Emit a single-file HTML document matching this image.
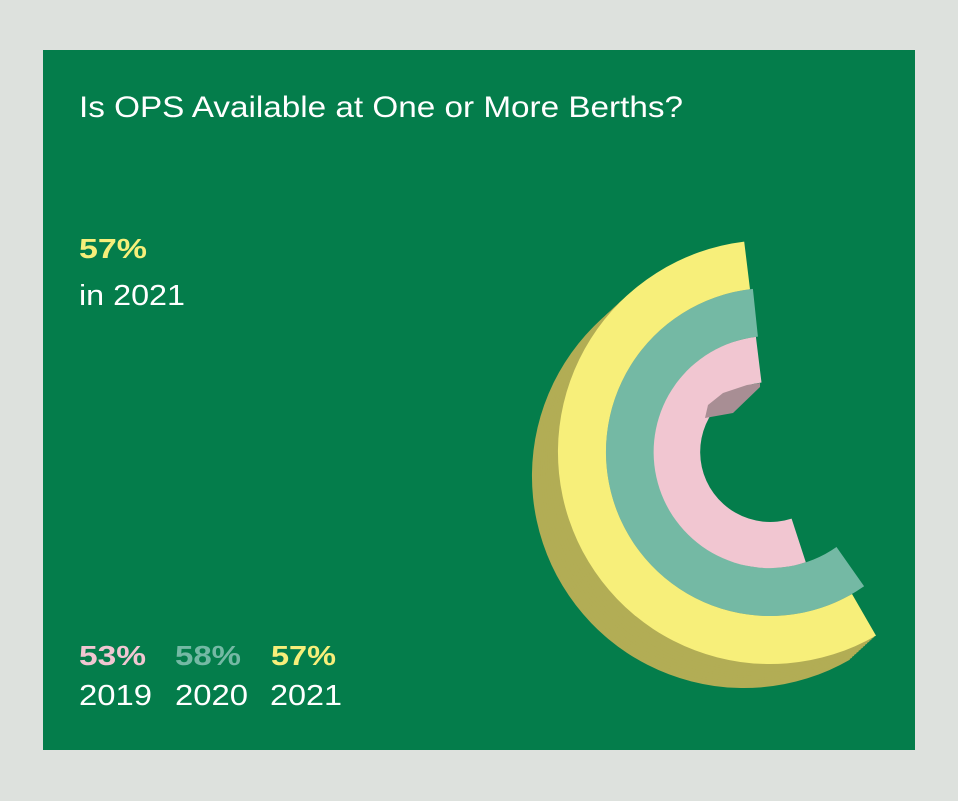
<!DOCTYPE html>
<html><head><meta charset="utf-8"><style>
html,body{margin:0;padding:0;background:#dde1dd;width:958px;height:801px;overflow:hidden}
svg{display:block}
text{font-family:"Liberation Sans",Arial,sans-serif}
</style></head><body>
<svg id="s" width="958" height="801" viewBox="0 0 958 801" xmlns="http://www.w3.org/2000/svg">
<rect x="0" y="0" width="958" height="801" fill="#dde1dd"/>
<rect x="43" y="50" width="872" height="700" fill="#047d4b"/>
<text x="79" y="117" font-size="30" fill="#fff" textLength="604" lengthAdjust="spacingAndGlyphs">Is OPS Available at One or More Berths?</text>
<text x="79" y="258" font-size="28" font-weight="bold" fill="#f7ef7a" textLength="68" lengthAdjust="spacingAndGlyphs">57%</text>
<text x="79" y="305" font-size="29" fill="#fff" textLength="106" lengthAdjust="spacingAndGlyphs">in 2021</text>
<text x="79" y="665" font-size="28" font-weight="bold" fill="#f1c6d1" textLength="67" lengthAdjust="spacingAndGlyphs">53%</text>
<text x="175" y="665" font-size="28" font-weight="bold" fill="#74b9a4" textLength="66" lengthAdjust="spacingAndGlyphs">58%</text>
<text x="271" y="665" font-size="28" font-weight="bold" fill="#f7ef7a" textLength="65" lengthAdjust="spacingAndGlyphs">57%</text>
<text x="79" y="705" font-size="29" fill="#fff" textLength="73" lengthAdjust="spacingAndGlyphs">2019</text>
<text x="175" y="705" font-size="29" fill="#fff" textLength="73" lengthAdjust="spacingAndGlyphs">2020</text>
<text x="270" y="705" font-size="29" fill="#fff" textLength="72" lengthAdjust="spacingAndGlyphs">2021</text>
<g id="g"></g>
</svg>
<script>
var cx=770,cy=452;
function P(a,r,dx,dy){a=a*Math.PI/180;return (cx+dx+r*Math.cos(a)).toFixed(1)+","+(cy+dy+r*Math.sin(a)).toFixed(1);}
function ring(R,r,a0,a1,dx,dy){dx=dx||0;dy=dy||0;
 return "M"+P(a0,R,dx,dy)+" A"+R+","+R+" 0 1 0 "+P(a1,R,dx,dy)+" L"+P(a1,r,dx,dy)+" A"+r+","+r+" 0 1 1 "+P(a0,r,dx,dy)+" Z";}
var h="";
for(var i=12;i>=1;i--){var t=i/12;h+='<path d="'+ring(212,150,-97,60,-26*t,24*t)+'" fill="#b2ad55"/>';}
h+='<path d="'+ring(212,164,-97,60)+'" fill="#f7ef7a"/>';
h+='<path d="'+ring(164,116,-96,55)+'" fill="#74b9a4"/>';
h+='<path d="'+ring(116,70,-97,72)+'" fill="#f1c6d1"/>';
h+='<path d="M705,418 L733,413 L760,387 L760,383 L747,385 L723,393 L708,405 Z" fill="#a88e94"/>';
document.getElementById("g").innerHTML=h;
</script>
</body></html>
